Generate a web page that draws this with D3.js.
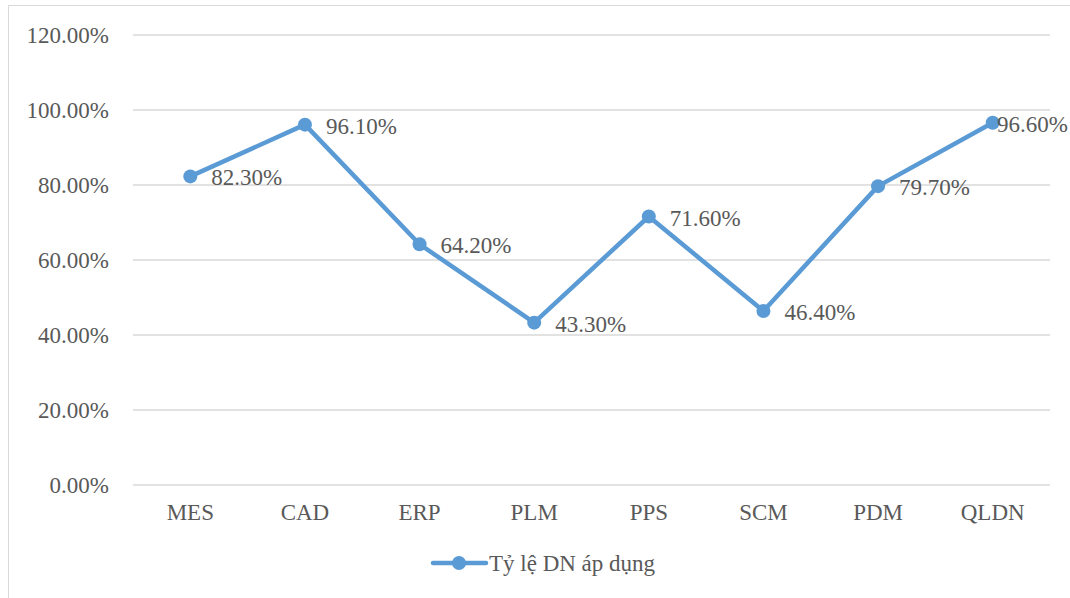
<!DOCTYPE html>
<html>
<head>
<meta charset="utf-8">
<script src="https://cdn.jsdelivr.net/npm/d3@7"></script>
<style>
html,body{margin:0;padding:0;background:#fff;}
svg{display:block;}
</style>
</head>
<body>
<svg id="chart" width="1070" height="598"></svg>
<script>
const categories = ["MES","CAD","ERP","PLM","PPS","SCM","PDM","QLDN"];
const values = [82.3, 96.1, 64.2, 43.3, 71.6, 46.4, 79.7, 96.6];
const yTicks = [0, 20, 40, 60, 80, 100, 120];
const seriesName = "Tỷ lệ DN áp dụng";

(function () {
const svg = d3.select("#chart");
const W = 1070, H = 598;
const font = '"Liberation Serif"';
const fs = 23;
const textColor = "#595959";
const lineColor = "#5B9BD5";

// chart border
svg.append("rect").attr("x", 8.5).attr("y", 5.5).attr("width", W + 10).attr("height", H + 10)
  .attr("fill", "none").attr("stroke", "#d9d9d9").attr("stroke-width", 1);

const pLeft = 133, pRight = 1050, pTop = 35, pBottom = 485;
const x = d3.scaleBand().domain(categories).range([pLeft, pRight]);
const y = d3.scaleLinear().domain([0, 120]).range([pBottom, pTop]);

// gridlines
svg.append("g").selectAll("line").data(yTicks).join("line")
  .attr("x1", pLeft).attr("x2", pRight)
  .attr("y1", d => y(d)).attr("y2", d => y(d))
  .attr("stroke", "#d9d9d9").attr("stroke-width", 1.3);

// y axis labels
const yAxis = d3.axisLeft(y).tickValues(yTicks).tickSize(0).tickPadding(0)
  .tickFormat(d => d.toFixed(2) + "%");
const gy = svg.append("g").attr("transform", `translate(${109},0)`).call(yAxis);
gy.select(".domain").remove();
gy.selectAll("text").style("font-family", font).style("font-size", fs + "px").attr("fill", textColor);

// x axis labels
const xAxis = d3.axisBottom(x).tickSize(0).tickPadding(0);
const gx = svg.append("g").attr("transform", `translate(0,${pBottom + 19})`).call(xAxis);
gx.select(".domain").remove();
gx.selectAll("text").style("font-family", font).style("font-size", fs + "px").attr("fill", textColor);

const cx = d => x(d) + x.bandwidth() / 2;
const pts = categories.map((c, i) => ({c, v: values[i]}));

svg.append("path").datum(pts)
  .attr("d", d3.line().x(d => cx(d.c)).y(d => y(d.v)))
  .attr("fill", "none").attr("stroke", lineColor).attr("stroke-width", 4.5)
  .attr("stroke-linejoin", "round").attr("stroke-linecap", "round");

svg.append("g").selectAll("circle").data(pts).join("circle")
  .attr("cx", d => cx(d.c)).attr("cy", d => y(d.v)).attr("r", 7)
  .attr("fill", lineColor);

svg.append("g").selectAll("text").data(pts).join("text")
  .attr("y", d => y(d.v) + 9)
  .style("font-family", font).style("font-size", fs + "px").attr("fill", textColor)
  .text(d => d.v.toFixed(2) + "%")
  .attr("x", function (d) {
    const len = this.getComputedTextLength();
    return Math.min(cx(d.c) + 21, W - 2 - len);
  });

// legend
const lg = svg.append("g");
lg.append("line").attr("x1", 433).attr("x2", 486).attr("y1", 563).attr("y2", 563)
  .attr("stroke", lineColor).attr("stroke-width", 4.5).attr("stroke-linecap", "round");
lg.append("circle").attr("cx", 459).attr("cy", 563).attr("r", 7).attr("fill", lineColor);
lg.append("text").attr("x", 489).attr("y", 571)
  .style("font-family", font).style("font-size", fs + "px")
  .attr("fill", textColor).text(seriesName);
})();
</script>
</body>
</html>
